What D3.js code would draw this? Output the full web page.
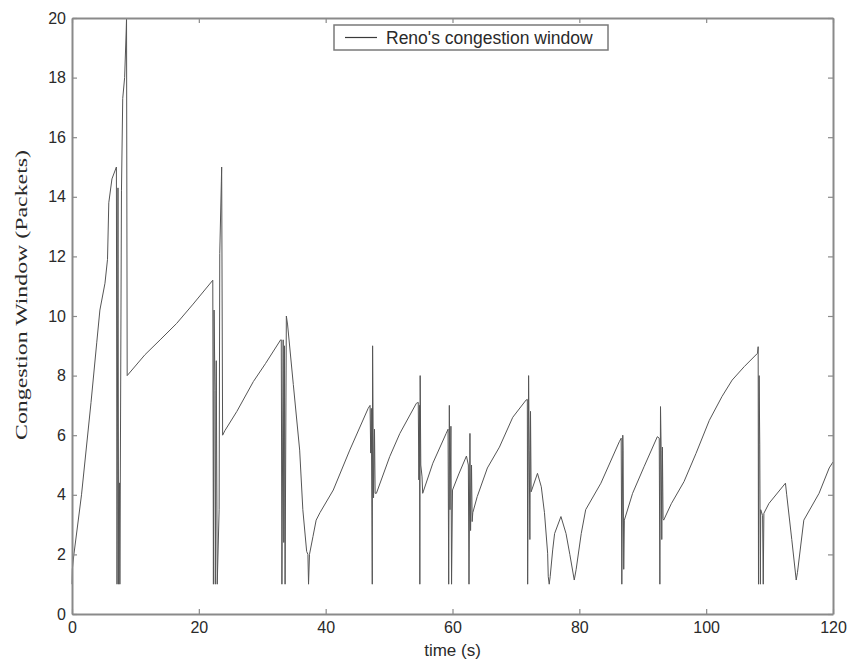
<!DOCTYPE html>
<html>
<head>
<meta charset="utf-8">
<script src="https://cdnjs.cloudflare.com/ajax/libs/d3/7.8.5/d3.min.js"></script>
<style>
  html, body { margin: 0; padding: 0; background: #fff; }
  svg { display: block; }
</style>
</head>
<body>
<svg id="chart" width="862" height="661"></svg>
<script>
// ---- data ----
const timeS = [
  0, 0.05, 0.3, 1.5, 3.0, 3.9, 4.4, 5.2, 5.6, 5.8, 6.3, 7.0,
  7.1, 7.25, 7.35, 7.5, 7.55, 7.8, 8.0, 8.3, 8.55, 8.6, 8.7,
  11.5, 13.9, 16.5, 19.1, 22.2,
  22.3, 22.4, 22.55, 22.6, 22.75, 22.9, 23.2, 23.3, 23.55, 23.6, 23.75,
  24.1, 26, 28.6, 30.5, 32.9,
  33.0, 33.1, 33.3, 33.4, 33.5, 33.6, 33.8, 34.0, 34.9, 35.9, 36.4, 37.0, 37.2, 37.3, 37.45, 38.0, 38.5, 39.1, 41.2, 43.8, 46.7,
  47.0, 47.1, 47.2, 47.35, 47.4, 47.55, 47.7, 47.8,
  48.0, 50.1, 51.7, 54.3,
  54.6, 54.7, 54.8, 54.85, 54.9, 55.0, 55.2, 55.3,
  56.9, 59.0,
  59.3, 59.4, 59.5, 59.6, 59.75, 59.85, 60.0,
  61.0, 62.2,
  62.5, 62.6, 62.75, 62.85, 63.0, 63.1, 63.2,
  63.9, 65.5, 67.4, 69.5, 71.6,
  71.8, 71.85, 72.0, 72.1, 72.2, 72.3, 72.4,
  73.4, 74.0, 74.5, 75.0, 75.1, 75.25, 75.4, 75.8, 76.1, 77.1, 77.9, 78.5, 79.2, 79.5, 80.3, 81.0, 83.4, 86.3,
  86.6, 86.7, 86.85, 86.9, 87.0, 87.1,
  88.4, 90.2, 92.3,
  92.6, 92.7, 92.8, 92.9, 93.0, 93.1, 93.2, 93.3,
  94.5, 96.5, 98.4, 100.5, 102.5, 104.1, 106, 108.1,
  108.2, 108.25, 108.35, 108.45, 108.55, 108.6, 108.9, 109.0, 109.1,
  109.9, 112.5, 112.7, 113.5, 114.2, 114.4, 115.4, 117.8, 119.4, 120
];
const cwnd = [
  1, 1.5, 2, 4, 7.1, 9.1, 10.2, 11.1, 11.9, 13.8, 14.6, 15.0,
  1, 14.3, 1, 4.4, 1, 14.2, 17.3, 18, 19.6, 20, 8.0,
  8.7, 9.2, 9.75, 10.4, 11.2,
  1, 10.2, 7.5, 1, 8.5, 1, 3.5, 12.1, 14.5, 15, 6.0,
  6.15, 6.8, 7.8, 8.4, 9.2,
  9.2, 1, 9.2, 2.4, 9.0, 1, 10.0, 9.7, 7.7, 5.5, 3.5, 2.1, 2.0, 1.0, 2.0, 2.6, 3.15, 3.4, 4.16, 5.5, 6.9,
  7.0, 5.4, 6.9, 1, 9.0, 3.9, 6.2, 4.05,
  4.05, 5.28, 6.06, 7.07,
  7.1, 4.5, 7.0, 1, 8.0, 5.0, 4.6, 4.05,
  5.06, 6.06,
  6.2, 1, 7.0, 3.5, 6.3, 1, 4.16,
  4.7, 5.3,
  5.0, 1, 6.06, 2.8, 5.0, 3.1, 3.4,
  3.94, 4.9, 5.6, 6.6, 7.18,
  7.2, 1, 8.0, 5.5, 2.5, 6.8, 4.1,
  4.72, 4.27, 3.4, 2.04, 1.25, 1.0, 1.25, 2.15, 2.7, 3.27, 2.7, 2.0, 1.14, 1.5, 2.7, 3.5, 4.39, 5.78,
  5.9, 1, 6.0, 5.5, 1.5, 3.15,
  4.05, 4.94, 5.95,
  5.9, 1, 6.96, 5.5, 2.5, 5.6, 3.2, 3.15,
  3.7, 4.44, 5.39, 6.5, 7.3, 7.85, 8.3, 8.75,
  8.97, 1, 8.0, 5.7, 1, 3.5, 3.3, 1, 3.38,
  3.71, 4.39, 4.0, 2.5, 1.14, 1.4, 3.15, 4.05, 4.9, 5.1
];
const xTicks = [0, 20, 40, 60, 80, 100, 120];
const yTicks = [0, 2, 4, 6, 8, 10, 12, 14, 16, 18, 20];
const legendLabel = "Reno's congestion window";
const xLabel = "time (s)";
const yLabel = "Congestion Window (Packets)";

// ---- layout ----
const svg = d3.select("#chart");
const L = 72, R = 833, T = 18, B = 614;
const x = d3.scaleLinear().domain([0, 120]).range([L, R]);
const y = d3.scaleLinear().domain([0, 20]).range([B, T]);

const axisColor = "#8a8a8a";
const textColor = "#2a2a2a";
const fontSans = "Arial, 'Liberation Sans', Helvetica, sans-serif";

// data line
const pts = timeS.map((t, i) => [t, cwnd[i]]);
svg.append("path")
  .datum(pts)
  .attr("fill", "none")
  .attr("stroke", "#555")
  .attr("stroke-width", 1)
  .attr("stroke-linejoin", "miter")
  .attr("d", d3.line().x(d => x(d[0])).y(d => y(d[1])));

function styleAxis(g, showText) {
  g.selectAll(".domain").attr("stroke", axisColor).attr("stroke-width", 2);
  g.selectAll(".tick line").attr("stroke", axisColor).attr("stroke-width", 1.2);
  g.selectAll(".tick text")
    .attr("fill", textColor)
    .style("font-family", fontSans)
    .style("font-size", "16px")
    .style("display", showText ? null : "none");
}

svg.append("g").attr("transform", `translate(0,${B})`)
  .call(d3.axisBottom(x).tickValues(xTicks).tickFormat(d3.format("d")).tickSizeInner(-5).tickSizeOuter(0).tickPadding(8))
  .call(g => styleAxis(g, true));
svg.append("g").attr("transform", `translate(0,${T})`)
  .call(d3.axisTop(x).tickValues(xTicks).tickSizeInner(-5).tickSizeOuter(0))
  .call(g => styleAxis(g, false));
svg.append("g").attr("transform", `translate(${L},0)`)
  .call(d3.axisLeft(y).tickValues(yTicks).tickFormat(d3.format("d")).tickSizeInner(-5).tickSizeOuter(0).tickPadding(6))
  .call(g => styleAxis(g, true));
svg.append("g").attr("transform", `translate(${R},0)`)
  .call(d3.axisRight(y).tickValues(yTicks).tickSizeInner(-5).tickSizeOuter(0))
  .call(g => styleAxis(g, false));

// axis labels
svg.append("text")
  .attr("x", (L + R) / 2).attr("y", 656)
  .attr("text-anchor", "middle")
  .attr("fill", textColor)
  .style("font-family", fontSans)
  .style("font-size", "17px")
  .text(xLabel);

svg.append("text")
  .attr("transform", `translate(27,295) rotate(-90)`)
  .attr("text-anchor", "middle")
  .attr("fill", textColor)
  .attr("textLength", 290)
  .attr("lengthAdjust", "spacingAndGlyphs")
  .style("font-family", "'Liberation Serif', 'Times New Roman', serif")
  .style("font-size", "17px")
  .text(yLabel);

// legend
const lg = svg.append("g");
lg.append("rect")
  .attr("x", 334).attr("y", 25).attr("width", 274).attr("height", 25)
  .attr("fill", "#fff").attr("stroke", "#7a7a7a").attr("stroke-width", 1.5);
lg.append("line")
  .attr("x1", 345).attr("x2", 377).attr("y1", 37.5).attr("y2", 37.5)
  .attr("stroke", "#3a3a3a").attr("stroke-width", 1.2);
lg.append("text")
  .attr("x", 386).attr("y", 43.5)
  .attr("fill", textColor)
  .style("font-family", fontSans)
  .style("font-size", "17.5px")
  .text(legendLabel);
</script>
</body>
</html>
